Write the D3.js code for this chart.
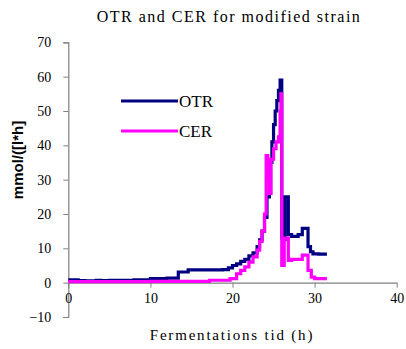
<!DOCTYPE html>
<html>
<head>
<meta charset="utf-8">
<script src="https://cdn.jsdelivr.net/npm/d3@7"></script>
<style>
  body { margin: 0; background: #fff; }
  svg { display: block; }
</style>
</head>
<body>
<svg id="chart" width="406" height="349"></svg>
<script>
// data
const otrTime = [0, 1.2, 2, 3.4, 4, 5, 6, 8, 10, 12, 13.4, 14.6, 17, 18.8, 19.5, 20, 20.5, 21, 21.5, 22, 22.5, 23, 23.3, 23.6, 23.9, 24.2, 24.5, 24.8, 25.0, 25.2, 25.4, 25.6, 25.8, 26.0, 26.2, 26.4, 26.8, 27.2, 27.6, 28.0, 28.5, 29.0, 29.2, 29.5, 29.8, 30.5, 31.5];
const otrValue = [0.8, 0.6, 0.5, 0.7, 0.6, 0.7, 0.7, 0.8, 1.2, 1.3, 3.1, 3.7, 3.7, 3.8, 4.3, 5.0, 5.5, 6.2, 6.8, 7.8, 8.7, 10.5, 12.5, 15, 19, 25, 35, 41, 46, 50, 53, 56, 59, 13, 12.5, 25, 14, 13.5, 13.5, 14, 15.8, 15.8, 10.5, 9, 8.4, 8.3, 8.3];
const cerTime = [0, 2, 5, 8, 10, 12, 14, 17.2, 19.7, 20.5, 21, 21.5, 22, 22.5, 23, 23.3, 23.6, 23.9, 24.1, 24.3, 24.5, 24.7, 25.0, 25.3, 25.6, 25.8, 25.9, 26.0, 26.3, 26.5, 26.8, 27.2, 28, 28.5, 29, 29.2, 29.6, 30, 30.3, 31.5];
const cerValue = [0.3, 0.3, 0.3, 0.3, 0.4, 0.4, 0.4, 0.7, 1.2, 2.6, 3.6, 4.6, 6, 7.5, 9.5, 12, 15, 20, 37, 30, 26, 36, 39, 41, 42.5, 50, 55, 5, 13, 13, 6.5, 6.8, 6.8, 8, 8, 3.6, 1.6, 1.2, 1.2, 1.2];
const xTicks = [0, 10, 20, 30, 40];
const yTicks = [-10, 0, 10, 20, 30, 40, 50, 60, 70];

const serif = "'Liberation Serif', 'Times New Roman', 'DejaVu Serif', serif";
const svg = d3.select("#chart");
const x = d3.scaleLinear().domain([0, 40]).range([68.3, 396.7]);
const y = d3.scaleLinear().domain([-10, 70]).range([317, 42.3]);
const axisColor = "#808080";

// title
svg.append("text")
  .attr("x", 229).attr("y", 22).attr("text-anchor", "middle")
  .style("font-family", serif)
  .style("font-size", "16px").style("letter-spacing", "1.5px")
  .text("OTR and CER for modified strain");

// y axis
const yAxis = svg.append("g").attr("transform", `translate(${x(0)},0)`)
  .call(d3.axisLeft(y).tickValues(yTicks).tickSize(5).tickFormat(d3.format("d")));
yAxis.attr("font-family", null);
yAxis.select(".domain").attr("stroke", axisColor).attr("stroke-width", 1.2);
yAxis.selectAll(".tick line").attr("stroke", axisColor);
yAxis.selectAll(".tick text").attr("x", -17)
  .style("font-family", serif).style("font-size", "14px");

// x axis at y = 0
const xAxis = svg.append("g").attr("transform", `translate(0,${y(0)})`)
  .call(d3.axisBottom(x).tickValues(xTicks).tickSize(5).tickSizeOuter(0));
xAxis.attr("font-family", null);
xAxis.select(".domain").attr("stroke", axisColor).attr("stroke-width", 1.2);
xAxis.selectAll(".tick line").attr("stroke", axisColor);
xAxis.selectAll(".tick text").attr("y", 10)
  .style("font-family", serif).style("font-size", "14px");

// axis labels
svg.append("text")
  .attr("x", 232).attr("y", 340).attr("text-anchor", "middle")
  .style("font-family", serif)
  .style("font-size", "15px").style("letter-spacing", "1.8px")
  .text("Fermentations tid (h)");
svg.append("text")
  .attr("transform", "translate(23,160) rotate(-90)")
  .attr("text-anchor", "middle")
  .style("font-family", "'Liberation Sans', Arial, sans-serif")
  .style("font-weight", "bold").style("font-size", "15px")
  .text("mmol/([l*h]");

// series
const series = [
  { name: "OTR", color: "#000080", t: otrTime, v: otrValue },
  { name: "CER", color: "#FF00FF", t: cerTime, v: cerValue }
];
const line = d3.line().x(d => x(d[0])).y(d => y(d[1])).curve(d3.curveStepAfter);
series.forEach(s => {
  svg.append("path")
    .datum(d3.zip(s.t, s.v))
    .attr("fill", "none").attr("stroke", s.color)
    .attr("stroke-width", 3.2)
    .attr("d", line);
});

// legend
series.forEach((s, i) => {
  const ly = 101 + i * 30;
  svg.append("line").attr("x1", 121).attr("x2", 178).attr("y1", ly).attr("y2", ly)
    .attr("stroke", s.color).attr("stroke-width", 3.2);
  svg.append("text")
    .attr("x", 179).attr("y", ly + 6)
    .style("font-family", serif)
    .style("font-size", "17px").text(s.name);
});
</script>
</body>
</html>
